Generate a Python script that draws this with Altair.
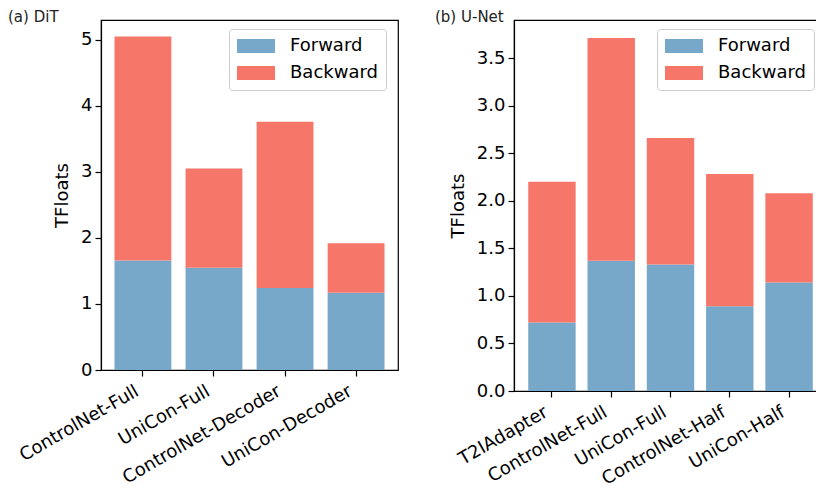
import altair as alt
import pandas as pd

# ---- data ----
phases = ["Forward", "Backward"]
phase_colors = ["#78A8C9", "#F6766A"]

dit_models = ["ControlNet-Full", "UniCon-Full", "ControlNet-Decoder", "UniCon-Decoder"]
dit_forward = [1.66, 1.55, 1.24, 1.17]
dit_backward = [3.39, 1.50, 2.52, 0.75]

unet_models = ["T2IAdapter", "ControlNet-Full", "UniCon-Full", "ControlNet-Half", "UniCon-Half"]
unet_forward = [0.72, 1.37, 1.33, 0.89, 1.14]
unet_backward = [1.48, 2.34, 1.33, 1.39, 0.94]

dit_ticks = [0, 1, 2, 3, 4, 5]
unet_ticks = [0.0, 0.5, 1.0, 1.5, 2.0, 2.5, 3.0, 3.5]


def long_table(models, fwd, bwd):
    rows = []
    for m, f, b in zip(models, fwd, bwd):
        rows.append({"model": m, "phase": "Forward", "value": f, "ord": 0})
        rows.append({"model": m, "phase": "Backward", "value": b, "ord": 1})
    return pd.DataFrame(rows)


FONT = "DejaVu Sans"
legend_path = "M-1,-0.37L1,-0.37L1,0.37L-1,0.37Z"


def panel(df, models, ticks, ymax, fmt, w, h, outer, title, title_dx, leg_x):
    legend = alt.Legend(
        title=None,
        orient="none",
        legendX=leg_x,
        legendY=9,
        symbolType=legend_path,
        symbolSize=1444,
        symbolStrokeWidth=0,
        labelFontSize=18,
        labelFont=FONT,
        labelColor="black",
        labelOffset=15,
        padding=8,
        clipHeight=18,
        rowPadding=9,
        strokeColor="#cccccc",
        cornerRadius=3,
        fillColor="rgba(255,255,255,0.8)",
    )
    return (
        alt.Chart(df)
        .mark_bar()
        .encode(
            x=alt.X(
                "model:N",
                sort=models,
                scale=alt.Scale(paddingInner=0.2, paddingOuter=outer),
                axis=alt.Axis(
                    title=None,
                    labelAngle=330,
                    labelAlign="right",
                    labelBaseline="top",
                    labelPadding=6,
                    labelOffset=-10,
                ),
            ),
            y=alt.Y(
                "value:Q",
                stack="zero",
                scale=alt.Scale(domain=[0, ymax], nice=False, zero=True),
                axis=alt.Axis(title="TFloats", values=ticks, format=fmt, titlePadding=9),
            ),
            color=alt.Color(
                "phase:N",
                scale=alt.Scale(domain=phases, range=phase_colors),
                legend=legend,
            ),
            order=alt.Order("ord:Q", sort="ascending"),
        )
        .properties(
            width=w,
            height=h,
            title=alt.TitleParams(
                title,
                anchor="start",
                frame="group",
                dx=title_dx,
                fontSize=15,
                font=FONT,
                fontWeight="normal",
                color="#222222",
                offset=-4.5,
            ),
        )
    )


left = panel(long_table(dit_models, dit_forward, dit_backward), dit_models, dit_ticks,
             5.30, "d", 297, 350, 0.19, "(a) DiT", -93, 128)
right = panel(long_table(unet_models, unet_forward, unet_backward), unet_models, unet_ticks,
              3.90, ".1f", 313, 371, 0.24, "(b) U-Net", -79, 143)

chart = (
    alt.hconcat(left, right, spacing=35)
    .resolve_scale(color="independent")
    .properties(padding={"left": -1, "top": 0, "right": -12, "bottom": 0})
    .configure_view(stroke="black", strokeWidth=1.2)
    .configure_axis(
        grid=False,
        domainColor="black",
        domainWidth=1.2,
        tickColor="black",
        tickWidth=1.2,
        tickSize=6,
        labelPadding=3,
        labelFont=FONT,
        labelFontSize=18,
        labelColor="black",
        titleFont=FONT,
        titleFontSize=18,
        titleFontWeight="normal",
        titleColor="black",
    )
)

chart.save("out.html", embed_options={"renderer": "svg", "actions": False})
